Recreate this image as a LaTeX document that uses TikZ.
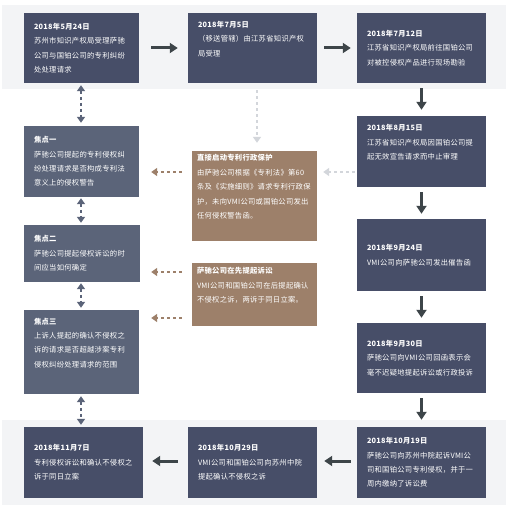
\documentclass[tikz,border=0pt]{standalone}
\usepackage{fontspec}
\setmainfont{Noto Sans CJK SC}[LetterSpace=4]
\usetikzlibrary{arrows.meta}
\definecolor{bandc}{HTML}{F3F4F6}
\definecolor{darkbox}{HTML}{474E68}
\definecolor{focusbox}{HTML}{5B6479}
\definecolor{brownbox}{HTML}{9D806A}
\definecolor{arrowc}{HTML}{3D4549}
\definecolor{lightdash}{HTML}{D3D6DB}
\tikzset{
  txt/.style={font=\fontsize{7.3}{14.4}\selectfont, text=white, align=left, inner ysep=0pt, anchor=center},
  darknode/.style={txt, fill=darkbox, inner xsep=10pt},
  focusnode/.style={txt, fill=focusbox, inner xsep=10pt},
  brownnode/.style={txt, fill=brownbox, inner xsep=5pt},
  solidarrow/.style={draw=arrowc, line width=3pt, -{Triangle[length=8pt,width=10pt]}},
  focusarrow/.style={draw=focusbox, line width=1.8pt, dash pattern=on 3pt off 3pt, {Triangle[length=6pt,width=8pt]}-{Triangle[length=6pt,width=8pt]}},
  greyarrow/.style={draw=lightdash, line width=1.8pt, dash pattern=on 3pt off 3pt, -{Triangle[length=6pt,width=8pt]}},
  brownarrow/.style={draw=brownbox, line width=1.8pt, dash pattern=on 3pt off 3pt, -{Triangle[length=6pt,width=8pt]}}
}
\begin{document}
\begin{tikzpicture}[x=1pt,y=-1pt]
\useasboundingbox (0,0) rectangle (508,511);
\fill[white] (0,0) rectangle (508,511);
\fill[bandc] (2,5) rectangle (506,89);
\fill[bandc] (2,420) rectangle (506,505);

% top row
\node[darknode, text width=95pt, minimum height=70pt] (b1) at (81.5,48)
  {\textbf{2018年5月24日}\\苏州市知识产权局受理萨驰\\公司与国铂公司的专利纠纷\\处处理请求};
\node[darknode, text width=109pt, minimum height=70pt] (b2) at (252.5,48)
  {\textbf{2018年7月5日}\\（移送管辖）由江苏省知识产权\\局受理\\\strut};
\node[darknode, text width=109pt, minimum height=70pt] (b3) at (421.5,48)
  {\textbf{2018年7月12日}\\江苏省知识产权局前往国铂公司\\对被控侵权产品进行现场勘验};

% right column
\node[darknode, text width=109pt, minimum height=71pt] (r1) at (421.5,151.5)
  {\textbf{2018年8月15日}\\江苏省知识产权局因国铂公司提\\起无效宣告请求而中止审理\\\strut};
\node[darknode, text width=109pt, minimum height=72pt] (r2) at (421.5,255)
  {\textbf{2018年9月24日}\\VMI公司向萨驰公司发出催告函};
\node[darknode, text width=109pt, minimum height=70pt] (r3) at (421.5,358)
  {\textbf{2018年9月30日}\\萨驰公司向VMI公司回函表示会\\毫不迟疑地提起诉讼或行政投诉};
\node[darknode, text width=109pt, minimum height=71pt] (r4) at (421.5,462.5)
  {\textbf{2018年10月19日}\\萨驰公司向苏州中院起诉VMI公\\司和国铂公司专利侵权，并于一\\周内缴纳了诉讼费};

% bottom row
\node[darknode, text width=109pt, minimum height=71pt] (c2) at (252.5,462.5)
  {\textbf{2018年10月29日}\\VMI公司和国铂公司向苏州中院\\提起确认不侵权之诉};
\node[darknode, text width=99pt, minimum height=71pt] (c1) at (83.5,462.5)
  {\textbf{2018年11月7日}\\专利侵权诉讼和确认不侵权之\\诉于同日立案};

% focus column
\node[focusnode, text width=95pt, minimum height=71pt] (f1) at (81.5,161.5)
  {\textbf{焦点一}\\萨驰公司提起的专利侵权纠\\纷处理请求是否构成专利法\\意义上的侵权警告};
\node[focusnode, text width=96pt, minimum height=57pt] (f2) at (82,253.5)
  {\textbf{焦点二}\\萨驰公司提起侵权诉讼的时\\间应当如何确定};
\node[focusnode, text width=95pt, minimum height=84pt] (f3) at (81.5,352)
  {\textbf{焦点三}\\上诉人提起的确认不侵权之\\诉的请求是否超越涉案专利\\侵权纠纷处理请求的范围\\\strut};

% brown boxes
\node[brownnode, text width=115pt, minimum height=90pt] (pa) at (254.5,196)
  {\textbf{直接启动专利行政保护}\\由萨驰公司根据《专利法》第60\\条及《实施细则》请求专利行政保\\护，未向VMI公司或国铂公司发出\\任何侵权警告函。\\\strut};
\node[brownnode, text width=115pt, minimum height=63pt] (pb) at (254.5,294.5)
  {\textbf{萨驰公司在先提起诉讼}\\VMI公司和国铂公司在后提起确认\\不侵权之诉，两诉于同日立案。\\\strut};

% solid flow arrows
\draw[solidarrow, shorten <=12pt, shorten >=10pt] (b1.east |- 0,48) -- (b2.west |- 0,48);
\draw[solidarrow, shorten <=7pt, shorten >=6pt] (b2.east |- 0,48) -- (b3.west |- 0,48);
\draw[solidarrow, shorten <=5pt, shorten >=6pt] (b3.south) -- (r1.north);
\draw[solidarrow, shorten <=5pt, shorten >=5pt] (r1.south) -- (r2.north);
\draw[solidarrow, shorten <=5pt, shorten >=5pt] (r2.south) -- (r3.north);
\draw[solidarrow, shorten <=5pt, shorten >=7pt] (r3.south) -- (r4.north);
\draw[solidarrow, shorten <=6pt, shorten >=7pt] (r4.west |- 0,461) -- (c2.east |- 0,461);
\draw[solidarrow, shorten <=10pt, shorten >=9pt] (c2.west |- 0,461) -- (c1.east |- 0,461);

% focus dashed double arrows
\draw[focusarrow, shorten <=2pt, shorten >=3pt] (b1.south -| 81,0) -- (f1.north -| 81,0);
\draw[focusarrow, shorten <=1pt, shorten >=2pt] (f1.south -| 81,0) -- (f2.north -| 81,0);
\draw[focusarrow, shorten <=1pt, shorten >=2pt] (f2.south -| 81,0) -- (f3.north -| 81,0);
\draw[focusarrow, shorten <=2pt, shorten >=2pt] (f3.south -| 81,0) -- (c1.north -| 81,0);

% grey dashed arrows
\draw[greyarrow, shorten <=7pt, shorten >=8pt] (b2.south -| 257,0) -- (pa.north -| 257,0);
\draw[greyarrow, shorten <=2pt, shorten >=6pt] (r1.west |- 0,172) -- (pa.east |- 0,172);

% brown dashed arrows
\draw[brownarrow, shorten <=10pt, shorten >=12pt] (pa.west |- 0,172) -- (f1.east |- 0,172);
\draw[brownarrow, shorten <=10pt, shorten >=11pt] (pb.west |- 0,272) -- (f2.east |- 0,272);
\draw[brownarrow, shorten <=10pt, shorten >=12pt] (pb.west |- 0,318) -- (f3.east |- 0,318);
\end{tikzpicture}
\end{document}
